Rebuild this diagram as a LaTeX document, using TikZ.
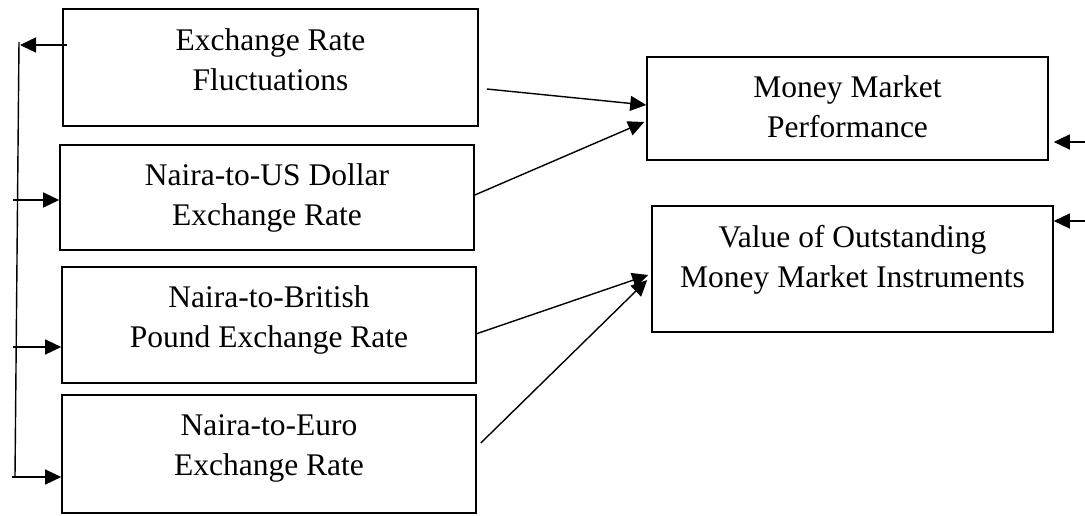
\documentclass[tikz,border=0pt]{standalone}
\usepackage{fontspec}
\setmainfont{Liberation Serif}
\usetikzlibrary{arrows.meta}
\begin{document}
\begin{tikzpicture}[x=1pt,y=-1pt,
  box/.style={draw, line width=1.6pt, rectangle, inner sep=0pt},
  lbl/.style={anchor=north, align=center, inner sep=0pt, font=\fontsize{31.5}{40}\selectfont},
  arr/.style={line width=1.4pt, -{Triangle[length=16pt,width=15pt]}},
  ln/.style={line width=1.4pt}]
\useasboundingbox (0,0) rectangle (1085,515);
% boxes
\node[box, minimum width=415pt, minimum height=117pt] (b1) at (270.5,67.5) {};
\node[box, minimum width=414pt, minimum height=105pt] (b2) at (267,197.5) {};
\node[box, minimum width=414pt, minimum height=116pt] (b3) at (269,325) {};
\node[box, minimum width=414pt, minimum height=118pt] (b4) at (269,454) {};
\node[box, minimum width=401pt, minimum height=103pt] (r1) at (847.5,108.5) {};
\node[box, minimum width=401pt, minimum height=126pt] (r2) at (852.5,269) {};
% texts (top = first baseline - 28)
\node[lbl] (t1) at (270.5,22.5) {\strut Exchange Rate\\\strut Fluctuations};
\node[lbl] (t2) at (267,157) {\strut Naira-to-US Dollar\\\strut Exchange Rate};
\node[lbl] (t3) at (269,279) {\strut Naira-to-British\\\strut Pound Exchange Rate};
\node[lbl] (t4) at (269,407) {\strut Naira-to-Euro\\\strut Exchange Rate};
\node[lbl] (t5) at (847.5,69) {\strut Money Market\\\strut Performance};
\node[lbl] (t6) at (852.5,219) {\strut Value of Outstanding\\\strut Money Market Instruments};
% left trunk
\coordinate (trtop) at (19,42);
\coordinate (trbot) at (15,477);
\draw[ln] (trtop) -- (trbot);
\coordinate (s1) at (20,45);
\coordinate (s2) at (13,200);
\coordinate (s3) at (13,347);
\coordinate (s4) at (12,477);
\draw[arr] ([xshift=5pt]b1.west |- s1) -- (s1);
\draw[arr] (s2) -- (b2.west |- s2);
\draw[arr] (s3) -- (b3.west |- s3);
\draw[arr] (s4) -- (b4.west |- s4);
% right side arrows
\coordinate (e1) at (1085,142);
\coordinate (e2) at (1085,221);
\draw[arr] (e1) -- ([xshift=5pt]r1.east |- e1);
\draw[arr] (e2) -- (r2.east |- e2);
% diagonal arrows
\draw[arr] ([shift={(8,21.5)}]b1.east) -- ([shift={(0,-3.5)}]r1.west);
\draw[arr] ([shift={(0,-2.5)}]b2.east) -- ([shift={(-2,13.5)}]r1.west);
\draw[arr] ([shift={(-1,9)}]b3.east) -- ([shift={(-3,6)}]r2.west);
\draw[arr] ([shift={(4,-11)}]b4.east) -- ([shift={(-4,11)}]r2.west);
\end{tikzpicture}
\end{document}
